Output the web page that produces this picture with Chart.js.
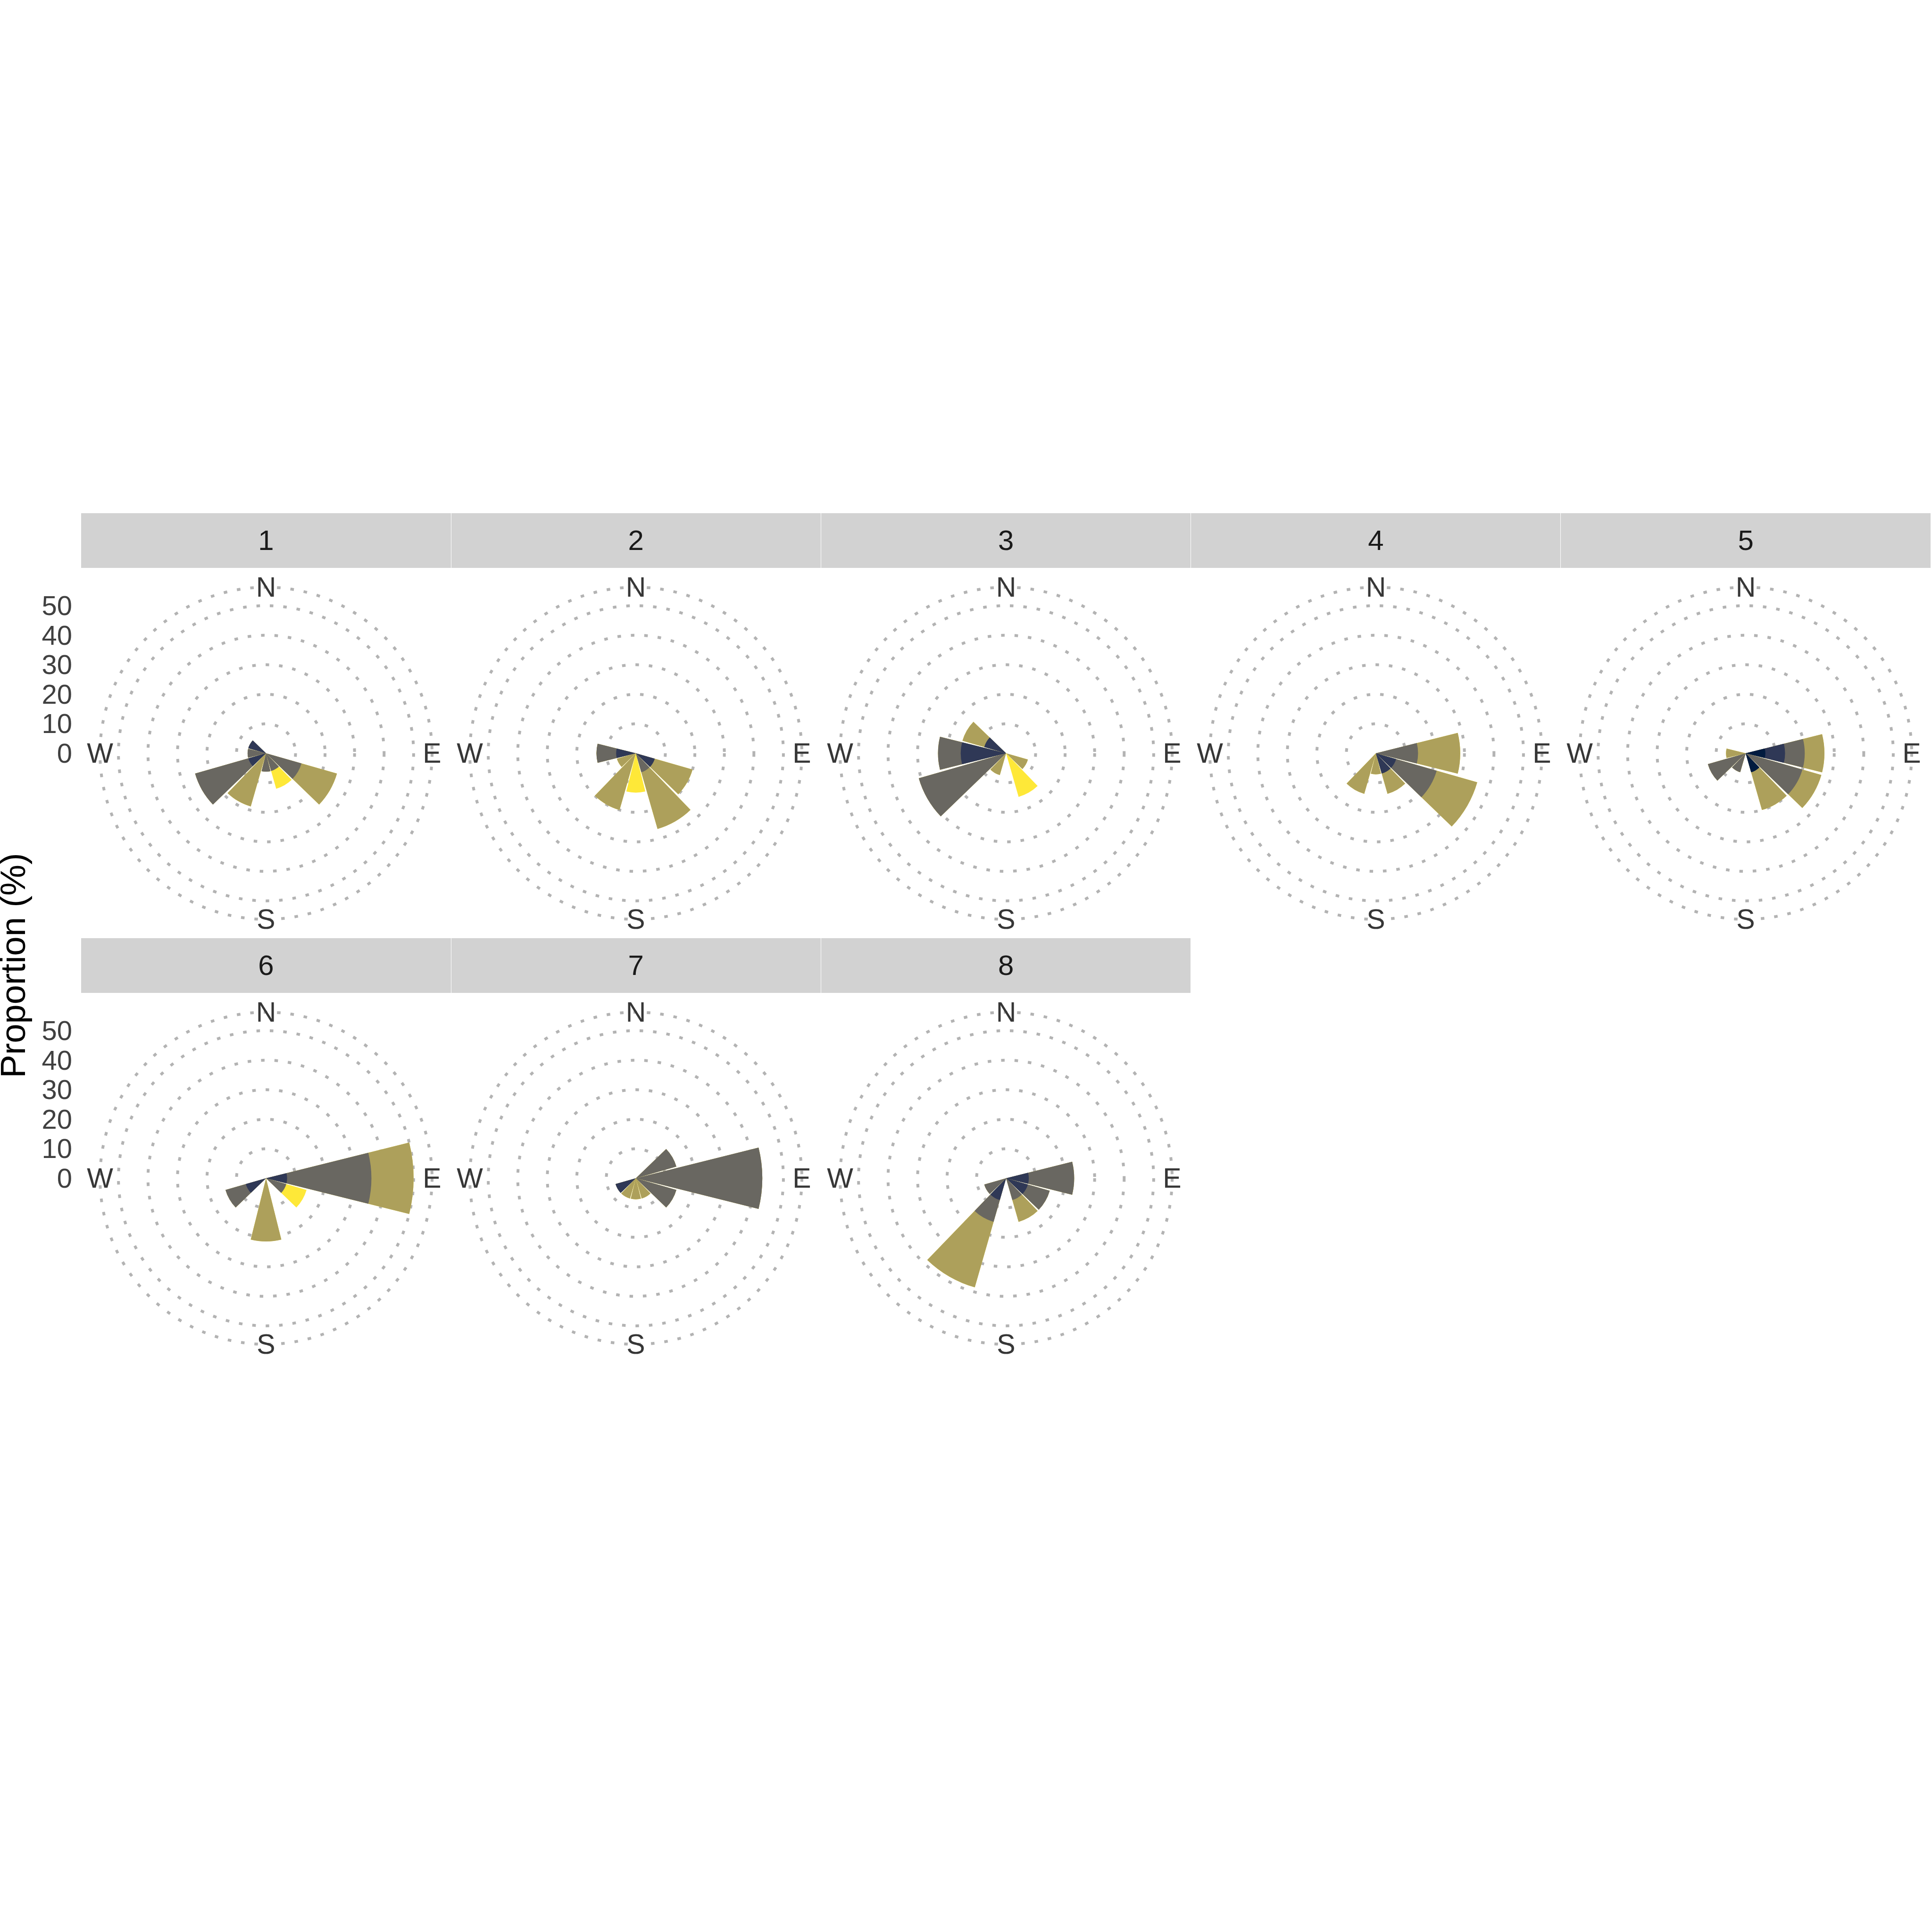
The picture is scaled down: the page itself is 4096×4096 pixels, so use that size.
<!DOCTYPE html>
<html><head><meta charset="utf-8">
<script src="https://cdn.jsdelivr.net/npm/chart.js@4.4.1/dist/chart.umd.min.js"></script>
<style>
html,body{margin:0;padding:0;background:#fff;}
#root{position:relative;width:4096px;height:4096px;overflow:hidden;background:#fff;font-family:"Liberation Sans",Arial,Helvetica,sans-serif;}
.strip{position:absolute;background:#d2d2d2;}
.lbl{position:absolute;white-space:nowrap;line-height:1;}
canvas{position:absolute;}
</style></head><body><div id="root"></div>
<script>
// ---------------- data ----------------
const directions = [0, 30, 60, 90, 120, 150, 180, 210, 240, 270, 300, 330];
const panelLabels = ['1', '2', '3', '4', '5', '6', '7', '8'];
const speedClasses = ['ws1', 'ws2', 'ws3', 'ws4', 'ws5'];
const ringValues = [0, 10, 20, 30, 40, 50, 56.25];
const tickValues = [0, 10, 20, 30, 40, 50];
const compassLabels = ['N', 'E', 'S', 'W'];
const axisTitle = 'Proportion (%)';

// proportion (%) per direction; one row per panel 1..8
const band1 = [
  [0,0,0,0,0,0,0,0,0,0,0,0],
  [0,0,0,0,0,0,0,0,0,0,0,0],
  [0,0,0,0,0,0,0,0,0,0,0,0],
  [0,0,0,0,0,0,0,0,0,0,0,0],
  [0,0,0,6.67,0,6.67,0,0,0,0,0,0],
  [0,0,0,0,0,0,0,0,0,0,0,0],
  [0,0,0,0,0,0,0,0,0,0,0,0],
  [0,0,0,0,0,0,0,0,0,0,0,0]
];
const band2 = [
  [0,0,0,0,0,0,0,0,6.25,0,6.25,0],
  [0,0,0,0,6.67,0,0,0,0,6.67,0,0],
  [0,0,0,0,0,0,0,0,0,15.38,7.69,0],
  [0,0,0,0,7.14,7.14,0,0,0,0,0,0],
  [0,0,0,6.67,0,0,0,0,0,0,0,0],
  [0,0,0,7.14,0,0,0,0,7.14,0,0,0],
  [0,0,0,0,0,0,0,0,7.14,0,0,0],
  [0,0,0,7.69,7.69,0,0,7.69,0,0,0,0]
];
const band3 = [
  [0,0,0,0,12.5,6.25,6.25,0,18.75,6.25,0,0],
  [0,0,0,0,0,6.67,0,0,0,6.67,0,0],
  [0,0,0,0,0,0,0,0,30.77,7.69,0,0],
  [0,0,0,14.29,14.29,0,0,0,0,0,0,0],
  [0,0,0,6.67,20,0,0,6.67,13.33,0,0,0],
  [0,0,0,28.57,7.14,0,0,0,7.14,0,0,0],
  [0,0,14.29,42.86,14.29,0,0,0,0,0,0,0],
  [0,0,0,15.38,7.69,7.69,0,7.69,7.69,0,0,0]
];
const band4 = [
  [0,0,0,0,12.5,0,0,18.75,0,0,0,0],
  [0,0,0,0,13.33,20,0,20,6.67,0,0,0],
  [0,0,0,0,7.69,0,0,7.69,0,0,7.69,0],
  [0,0,0,14.29,14.29,7.14,7.14,14.29,0,0,0,0],
  [0,0,0,6.67,6.67,13.33,0,0,0,6.67,0,0],
  [0,0,0,14.29,0,0,21.43,0,0,0,0,0],
  [0,0,0,0,0,7.14,7.14,7.14,0,0,0,0],
  [0,0,0,0,0,7.69,0,23.08,0,0,0,0]
];
const band5 = [
  [0,0,0,0,0,6.25,0,0,0,0,0,0],
  [0,0,0,0,0,0,13.33,0,0,0,0,0],
  [0,0,0,0,0,15.38,0,0,0,0,0,0],
  [0,0,0,0,0,0,0,0,0,0,0,0],
  [0,0,0,0,0,0,0,0,0,0,0,0],
  [0,0,0,0,7.14,0,0,0,0,0,0,0],
  [0,0,0,0,0,0,0,0,0,0,0,0],
  [0,0,0,0,0,0,0,0,0,0,0,0]
];

// ---------------- styling / layout ----------------
const bandColours = ['#011b3f', '#2f3856', '#696761', '#ada05b', '#fee838'];
const S = 4096 / 5400;
const colCx = c => (743.5 + 1034 * c) * S;
const rowCy = r => [2105, 3293][r] * S;
const CANVAS = 760, PAD = 28;
const root = document.getElementById('root');

function addText(txt, x, y, size, color, align, extra) {
  const d = document.createElement('div');
  d.className = 'lbl';
  d.textContent = txt;
  d.style.left = x + 'px';
  d.style.top = y + 'px';
  d.style.fontSize = size + 'px';
  d.style.color = color;
  const tx = align === 'right' ? '-100%' : '-50%';
  d.style.transform = 'translate(' + tx + ',-50%)' + (extra || '');
  root.appendChild(d);
  return d;
}

// gap-interleaved slots so each 30 degree sector holds a 28 degree wedge
const slotAngles = [];
const slotLabels = [];
directions.forEach(d => { slotAngles.push(28, 2); slotLabels.push(String(d), ''); });
const bands = [band1, band2, band3, band4, band5];

panelLabels.forEach((name, p) => {
  const col = p % 5, row = Math.floor(p / 5);
  const cx = colCx(col), cy = rowCy(row);

  // strip
  const st = document.createElement('div');
  st.className = 'strip';
  const sl = cx - 391.7, sw = 783.3, stTop = cy - 508.4, sh = 115.8;
  st.style.left = sl + 'px'; st.style.top = stTop + 'px';
  st.style.width = sw + 'px'; st.style.height = sh + 'px';
  root.appendChild(st);
  addText(name, cx, stTop + sh / 2, 60, '#1a1a1a', 'center');

  // cumulative stacks (innermost class first so it is drawn on top)
  let run = directions.map(() => 0);
  const datasets = bands.map((b, k) => {
    run = run.map((v, j) => v + b[p][j]);
    const slots = [];
    run.forEach(v => slots.push(+v.toFixed(4), 0));
    return {
      label: speedClasses[k],
      data: slots,
      backgroundColor: bandColours[k],
      borderWidth: 0,
      angle: c => slotAngles[c.dataIndex]
    };
  });

  const cv = document.createElement('canvas');
  cv.width = CANVAS; cv.height = CANVAS;
  const left = Math.round(cx) - CANVAS / 2, top = Math.round(cy) - CANVAS / 2;
  cv.style.left = left + 'px'; cv.style.top = top + 'px';
  cv.style.width = CANVAS + 'px'; cv.style.height = CANVAS + 'px';
  root.appendChild(cv);

  const chart = new Chart(cv, {
    type: 'polarArea',
    data: { labels: slotLabels, datasets },
    options: {
      responsive: false,
      animation: false,
      devicePixelRatio: 1,
      layout: { padding: PAD },
      plugins: { legend: { display: false }, tooltip: { enabled: false } },
      scales: {
        r: {
          min: 0,
          max: ringValues[ringValues.length - 1],
          startAngle: -14,
          ticks: { display: false },
          afterBuildTicks: s => { s.ticks = ringValues.map(v => ({ value: v })); },
          grid: { circular: true, color: '#b3b3b3', lineWidth: 6 },
          border: { dash: [7.5, 21] },
          angleLines: { display: false },
          pointLabels: { display: false }
        }
      }
    }
  });

  const sc = chart.scales.r;
  const ox = left + sc.xCenter, oy = top + sc.yCenter;
  const rOut = sc.getDistanceFromCenterForValue(ringValues[ringValues.length - 1]);
  const compassPos = [[0, -1], [1, 0], [0, 1], [-1, 0]];
  compassLabels.forEach((t, i) => {
    addText(t, ox + compassPos[i][0] * rOut, oy + compassPos[i][1] * rOut, 59, '#363636', 'center');
  });

  if (col === 0) {
    tickValues.forEach(v => {
      addText(String(v), ox - 411, oy - sc.getDistanceFromCenterForValue(v), 58, '#404040', 'right');
    });
  }
});

// y-axis title
addText(axisTitle, 28, 2047, 74, '#000', 'center', ' rotate(-90deg)');
</script></body></html>
